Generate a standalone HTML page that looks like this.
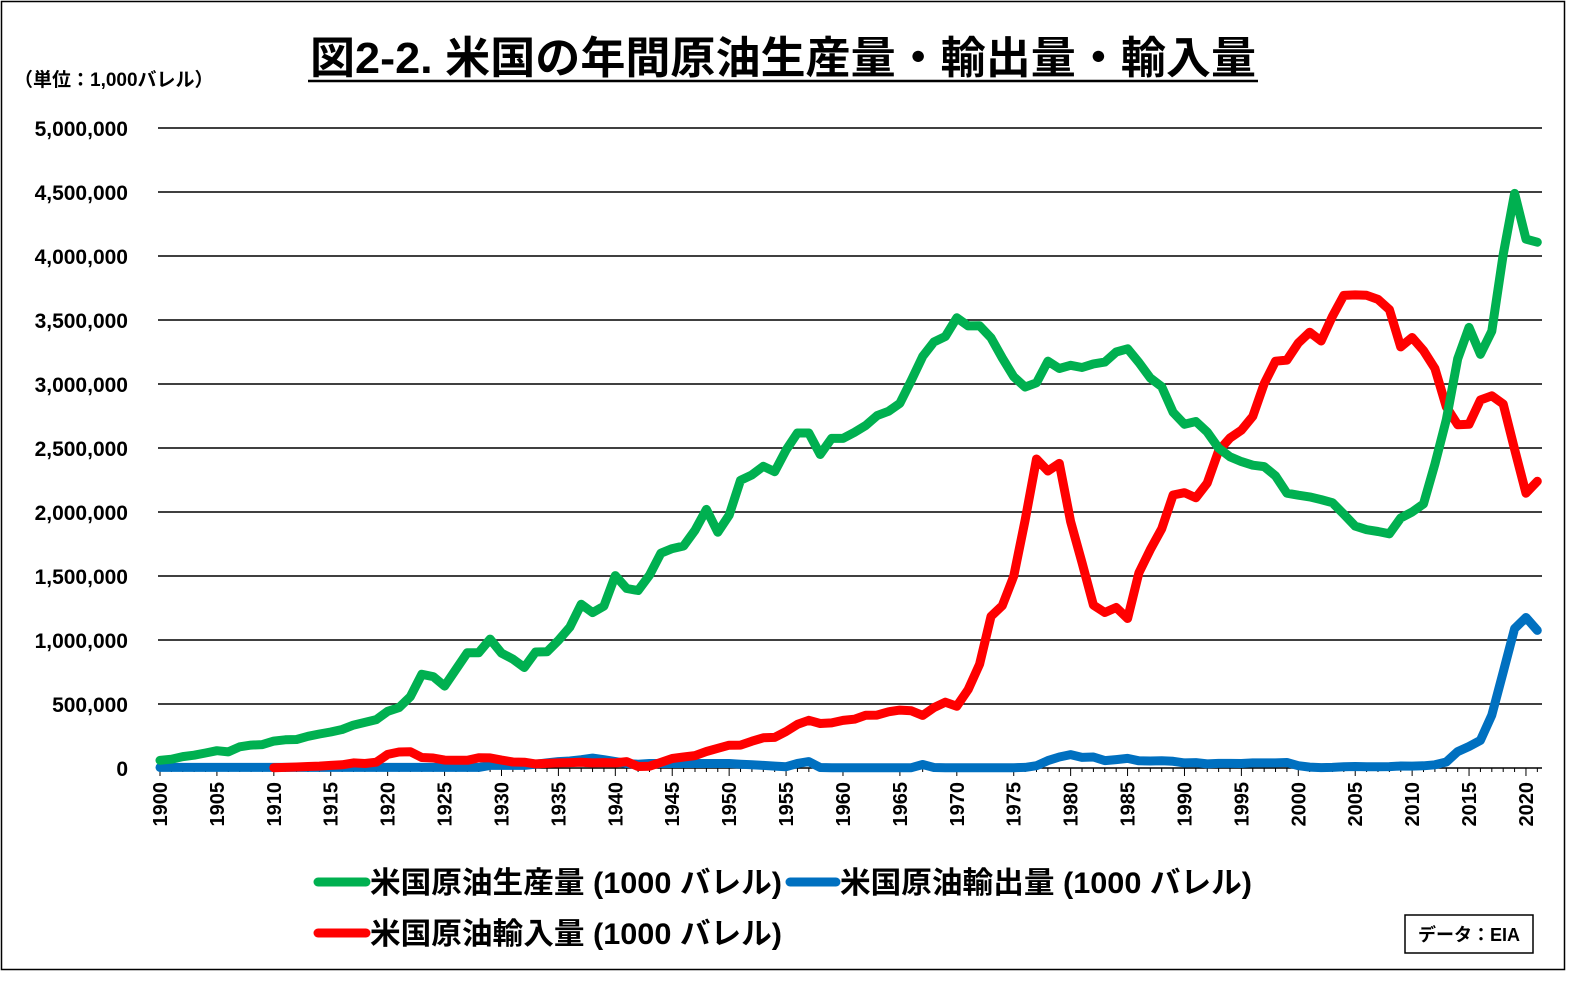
<!DOCTYPE html>
<html><head><meta charset="utf-8"><style>
body{margin:0;background:#fff;}
svg text{font-family:"Liberation Sans","Noto Sans CJK JP",sans-serif;font-weight:bold;fill:#000;}
</style></head><body>
<svg id="c" width="1595" height="991" xmlns="http://www.w3.org/2000/svg">
<rect x="1.5" y="1.5" width="1563" height="968" fill="#fff" stroke="#000" stroke-width="1.5"/>
<text x="783" y="73" font-size="44" text-anchor="middle" textLength="946" lengthAdjust="spacingAndGlyphs">図2-2. 米国の年間原油生産量・輸出量・輸入量</text>
<line x1="308" y1="81" x2="1258" y2="81" stroke="#000" stroke-width="2.5"/>
<text x="14" y="86" font-size="19" font-weight="normal">（単位：1,000バレル）</text>
<g id="grid"></g>
<g id="series" fill="none" stroke-width="9" stroke-linejoin="round" stroke-linecap="round"></g>
<line x1="318" y1="882" x2="366" y2="882" stroke="#00b050" stroke-width="9" stroke-linecap="round"/>
<text x="370" y="893" font-size="30" textLength="412" lengthAdjust="spacingAndGlyphs">米国原油生産量 (1000 バレル)</text>
<line x1="790" y1="882" x2="836" y2="882" stroke="#0070c0" stroke-width="9" stroke-linecap="round"/>
<text x="840" y="893" font-size="30" textLength="412" lengthAdjust="spacingAndGlyphs">米国原油輸出量 (1000 バレル)</text>
<line x1="318" y1="933" x2="366" y2="933" stroke="#ff0000" stroke-width="9" stroke-linecap="round"/>
<text x="370" y="944" font-size="30" textLength="412" lengthAdjust="spacingAndGlyphs">米国原油輸入量 (1000 バレル)</text>
<rect x="1405" y="915" width="128" height="38" fill="#fff" stroke="#000" stroke-width="1.5"/>
<text x="1469" y="941" font-size="18" text-anchor="middle">データ：EIA</text>
</svg>
<script>
const ns="http://www.w3.org/2000/svg";
const X=y=>160+(y-1900)*11.383, Y=v=>768-v/500*64;
const g=document.getElementById('grid');
function el(t,a,p,txt){const e=document.createElementNS(ns,t);for(const k in a)e.setAttribute(k,a[k]);if(txt!==undefined)e.textContent=txt;p.appendChild(e);return e;}
for(let i=0;i<=10;i++){const y=Y(i*500);el('line',{x1:158,x2:1542,y1:y,y2:y,stroke:'#000','stroke-width':1.5},g);
el('text',{x:128,y:y+8,'font-size':21,'text-anchor':'end'},g,(i*500000).toLocaleString('en-US'));}
for(let yr=1900;yr<=2021;yr++){const x=X(yr);el('line',{x1:x,x2:x,y1:768,y2:yr%5==0?776:772,stroke:'#000','stroke-width':1},g);}
for(let yr=1900;yr<=2020;yr+=5){const x=X(yr);el('text',{x:0,y:0,'font-size':20,'text-anchor':'end',transform:`translate(${x+7},782) rotate(-90)`},g,yr);}
const prod=[60,69,89,100,117,135,126,166,179,183,210,220,223,248,266,281,301,335,356,378,443,472,558,732,714,640,771,901,901,1007,898,851,785,906,908,997,1100,1279,1214,1265,1503,1402,1387,1506,1678,1714,1734,1857,2020,1842,1974,2248,2290,2357,2315,2484,2617,2617,2449,2575,2575,2622,2676,2753,2787,2849,3028,3216,3329,3372,3517,3454,3455,3361,3203,3057,2976,3009,3178,3121,3146,3129,3157,3171,3250,3275,3168,3047,2979,2779,2685,2707,2625,2499,2431,2394,2366,2355,2282,2147,2131,2118,2097,2073,1983,1890,1862,1848,1830,1953,2000,2063,2374,2720,3197,3442,3232,3413,4011,4489,4132,4108];
const impv=[2,5,8,12,15,20,25,40,35,45,106,125,127,82,78,62,60,60,80,79,62,47,45,32,36,40,42,45,40,42,40,50,12,14,44,74,86,97,129,154,178,179,209,236,239,285,341,373,348,352,372,381,412,413,439,452,447,411,472,514,483,613,811,1184,1269,1498,1935,2414,2320,2380,1926,1605,1273,1215,1254,1168,1525,1706,1869,2133,2151,2111,2226,2477,2578,2639,2748,3002,3178,3187,3320,3405,3336,3528,3692,3696,3693,3661,3581,3290,3363,3261,3121,2822,2682,2685,2875,2908,2844,2490,2147,2240];
const exp=[5,5,5,5,5,5,5,5,5,5,5,5,5,5,5,5,5,5,5,5,5,5,5,5,5,5,5,5,5,20,20,20,20,30,40,50,55,65,77,65,50,35,30,35,35,35,35,35,35,35,35,30,25,20,15,10,35,50,4,2,2,2,2,2,2,2,2,27,4,2,2,2,2,2,2,2,5,18,58,86,105,83,86,58,66,75,56,55,56,52,40,42,32,36,36,35,40,40,40,43,18,7,3,5,10,12,9,10,11,16,15,17,25,47,128,168,216,413,749,1089,1176,1075];
const s=document.getElementById('series');
function line(arr,start,col){el('polyline',{points:arr.map((v,i)=>X(start+i).toFixed(1)+','+Y(v).toFixed(1)).join(' '),stroke:col},s);}
line(exp,1900,'#0070c0');
line(impv,1910,'#ff0000');
line(prod,1900,'#00b050');
</script>
</body></html>
